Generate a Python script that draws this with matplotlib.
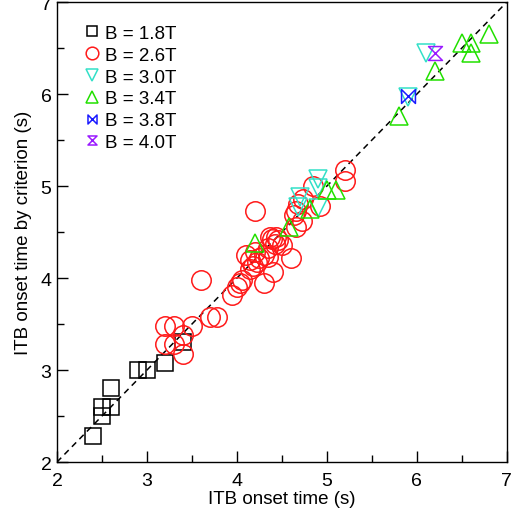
import matplotlib
matplotlib.use("Agg")
import matplotlib.pyplot as plt
from matplotlib.path import Path
import numpy as np

plt.rcParams['font.family'] = ['Liberation Sans', 'DejaVu Sans']

labels = ["B = 1.8T", "B = 2.6T", "B = 3.0T", "B = 3.4T", "B = 3.8T", "B = 4.0T"]

x_18 = [2.4, 2.5, 2.5, 2.6, 2.6, 2.9, 3.0, 3.2, 3.4]
y_18 = [2.28, 2.5, 2.6, 2.6, 2.8, 3.0, 3.0, 3.08, 3.3]

x_26 = [3.2, 3.3, 3.5, 3.7, 3.78, 3.2, 3.3, 3.4, 3.4,
        3.6, 3.95, 4.0, 4.03, 4.06, 4.3, 4.4, 4.6,
        4.1, 4.14, 4.18, 4.22, 4.15, 4.35, 4.35, 4.42, 4.46, 4.39, 4.5, 4.2, 4.3, 4.25,
        4.2, 4.66, 4.37, 4.44, 4.64, 4.66, 4.68, 4.72, 4.74, 4.92, 4.85, 5.2, 5.2]
y_26 = [3.48, 3.48, 3.48, 3.58, 3.58, 3.28, 3.28, 3.38, 3.18,
        3.98, 3.82, 3.9, 3.95, 3.98, 3.95, 4.07, 4.22,
        4.25, 4.2, 4.13, 4.17, 4.1, 4.23, 4.33, 4.37, 4.41, 4.43, 4.36, 4.28, 4.25, 4.22,
        4.73, 4.55, 4.45, 4.45, 4.69, 4.73, 4.8, 4.62, 4.86, 4.78, 5.0, 5.17, 5.06]

x_30 = [4.9, 4.9, 4.7, 4.68, 4.9, 5.9, 6.1]
y_30 = [5.08, 4.98, 4.88, 4.77, 4.76, 5.97, 6.45]

x_34 = [4.2, 4.58, 4.81, 5.0, 5.1, 5.8, 6.2, 6.5, 6.6, 6.6, 6.8]
y_34 = [4.38, 4.56, 4.75, 4.96, 4.96, 5.76, 6.25, 6.55, 6.55, 6.45, 6.65]

x_38 = [5.9]
y_38 = [5.98]

x_40 = [6.2]
y_40 = [6.45]

bowtie = Path([(-1, 1), (1, -1), (1, 1), (-1, -1), (-1, 1)],
              [Path.MOVETO, Path.LINETO, Path.LINETO, Path.LINETO, Path.CLOSEPOLY])
hourglass = Path([(-1, 1), (1, 1), (-1, -1), (1, -1), (-1, 1)],
                 [Path.MOVETO, Path.LINETO, Path.LINETO, Path.LINETO, Path.CLOSEPOLY])

fig = plt.figure(figsize=(5.13, 5.10), dpi=100)
ax = fig.add_axes([0.111, 0.092, 0.877, 0.902])

ax.plot([2, 7], [2, 7], color='black', linestyle=(0, (4, 3)), linewidth=1.1, zorder=1)

series = [
    (x_18, y_18, 's', 'black', 11.5),
    (x_26, y_26, 'o', '#ff1a1a', 14),
    (x_30, y_30, 'v', '#33e0c8', 13),
    (x_34, y_34, '^', '#22e000', 13),
    (x_38, y_38, bowtie, '#1a1aff', 10),
    (x_40, y_40, hourglass, '#9a1aff', 10),
]
for (xs, ys, m, c, ms), lab in zip(series, labels):
    ax.plot(xs, ys, linestyle='none', marker=m, markersize=ms, markerfacecolor='none',
            markeredgecolor=c, markeredgewidth=1.1, label=lab, zorder=3)

ax.set_xlim(2, 7)
ax.set_ylim(2, 7)
ax.set_xticks(np.arange(2, 8, 1))
ax.set_yticks(np.arange(2, 8, 1))
ax.set_xticks(np.arange(2.5, 7, 1), minor=True)
ax.set_yticks(np.arange(2.5, 7, 1), minor=True)
ax.tick_params(which='both', direction='in', labelsize=14, top=False, right=False)
ax.tick_params(which='major', length=8, width=1)
ax.tick_params(which='minor', length=5, width=1)
ax.tick_params(axis='x', pad=7)
ax.tick_params(axis='y', pad=4)
for s in ax.spines.values():
    s.set_linewidth(1.0)

ax.set_xlabel("ITB onset time (s)", fontsize=13.5, labelpad=1)
ax.set_ylabel("ITB onset time by criterion (s)", fontsize=13.5, labelpad=6)

leg = ax.legend(loc='upper left', frameon=False, fontsize=13.5, markerscale=0.65,
                handlelength=0.6, handletextpad=0.4, labelspacing=0.25,
                borderaxespad=0.2, bbox_to_anchor=(0.04, 0.975))

fig.savefig("out.png", dpi=100)
